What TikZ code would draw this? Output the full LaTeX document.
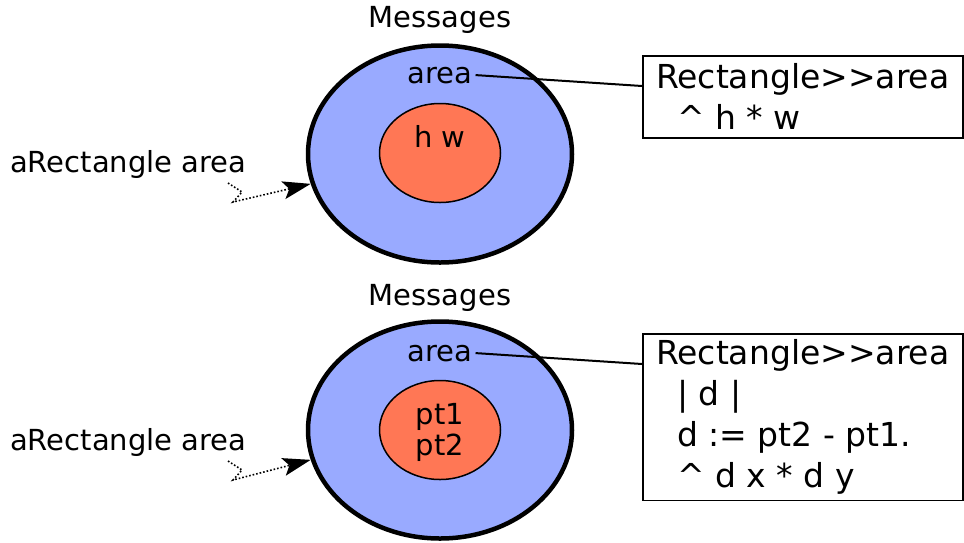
\documentclass[tikz,border=0pt]{standalone}
\usepackage{fontspec}
\setmainfont{DejaVu Sans}
\usetikzlibrary{shapes.geometric,arrows.meta}
\definecolor{msgblue}{RGB}{153,170,255}
\definecolor{varred}{RGB}{255,119,85}
\tikzset{
    msgs/.style={ellipse,draw,line width=4.5pt,fill=msgblue,minimum width=264pt,minimum height=217pt,inner sep=0pt},
    vars/.style={ellipse,draw,line width=1.5pt,fill=varred,minimum width=121pt,minimum height=99pt,inner sep=0pt},
    word/.style={font=\fontsize{29}{31}\selectfont,inner sep=3pt},
    method/.style={draw,line width=1.5pt,align=left,anchor=north west,minimum width=320pt,inner ysep=6pt,font=\fontsize{33}{41}\selectfont},
    send/.style={line width=1.6pt,dotted,-{Stealth[length=28pt,width=18pt,inset=6pt]}}
}
\newcommand{\ind}{\hspace*{0.636em}}
\begin{document}
\begin{tikzpicture}[x=1pt,y=-1pt]
        \useasboundingbox (0,0) rectangle (964,542);
        %% first object: h w
        \node[msgs] (outer1) at (440,154) {};
        \node[vars] (inner1) at (440,153) {};
        \node[word,anchor=base] (msg1) at (440,27) {Messages};
        \node[word,anchor=base] (area1) at (440,83) {area};
        \node[word,anchor=base] (iv1) at (440,147) {h w};
        \node[method,minimum height=82pt] (box1) at (642,55) {Rectangle>\kern0pt>area\\\ind\textasciicircum{} h * w};
        \draw[line width=2pt] (area1.east) -- ([yshift=-31pt]box1.north west);
        \node[word,anchor=base west] (who1) at (7,172) {aRectangle area};
        \coordinate (z1) at (228,183);
        \draw[send] (z1) -- ++(14,9) -- ++(-9,10) -- (outer1.193);
        %% second object: pt1 pt2
        \node[msgs] (outer2) at (440,430) {};
        \node[vars] (inner2) at (440,430) {};
        \node[word,anchor=base] (msg2) at (440,305) {Messages};
        \node[word,anchor=base] (area2) at (440,361) {area};
        \node[word,align=center] (iv2) at (440,432) {pt1\\pt2};
        \node[method] (box2) at (642,333) {Rectangle>\kern0pt>area\\\ind| d |\\\ind d := pt2 - pt1.\\\ind\textasciicircum{} d x * d y};
        \draw[line width=2pt] (area2.east) -- ([yshift=-31pt]box2.north west);
        \node[word,anchor=base west] (who2) at (7,450) {aRectangle area};
        \coordinate (z2) at (228,461);
        \draw[send] (z2) -- ++(14,9) -- ++(-9,10) -- (outer2.193);
    \end{tikzpicture}
\end{document}
